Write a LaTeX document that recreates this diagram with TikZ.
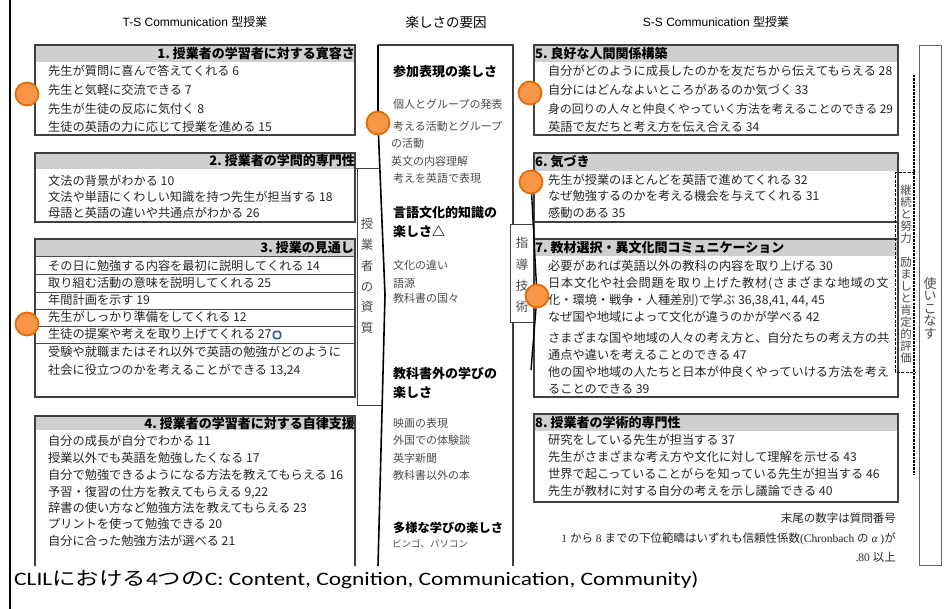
\documentclass[tikz,border=0pt]{standalone}
\usepackage{graphicx}
\usepackage{fontspec}
\setmainfont{Liberation Serif}
\newfontfamily\jp{Noto Sans CJK JP}
\newfontfamily\lsans{Liberation Sans}
\newfontfamily\carl{Carlito}
\newfontfamily\lserif{Liberation Serif}
\definecolor{orF}{HTML}{F79646}
\definecolor{orD}{HTML}{E46C0A}
\definecolor{hdrgray}{HTML}{CFCFCF}
\definecolor{iconblue}{HTML}{2F5D8C}
\tikzset{
 frame/.style={draw=black!75, line width=1.1pt},
 rowline/.style={draw=black!70, line width=0.8pt},
 body/.style={inner sep=0pt, anchor=base west, text=black!85, font=\jp\fontsize{12.2}{14}\selectfont},
 hdrL/.style={inner sep=0pt, anchor=base east, font=\jp\bfseries\fontsize{13}{15}\selectfont},
 hdrR/.style={inner sep=0pt, anchor=base west, font=\jp\bfseries\fontsize{13}{15}\selectfont},
 midhead/.style={inner sep=0pt, anchor=base west, font=\jp\bfseries\fontsize{13}{15}\selectfont},
 miditem/.style={inner sep=0pt, anchor=base west, text=black!70, font=\jp\fontsize{11}{13}\selectfont},
 vert/.style={inner sep=0pt, align=center, text=black!70},
 dot/.style={circle, minimum size=23pt, inner sep=0pt, fill=orF, draw=orD, line width=1.8pt},
 conn/.style={draw=black, line width=1.6pt},
 titletxt/.style={inner sep=0pt, anchor=base, font=\fontsize{12}{14}\selectfont},
 foot/.style={inner sep=0pt, anchor=base east, text=black!85, font=\jp\fontsize{11.5}{13}\selectfont},
 dashbox/.style={draw=black, line width=1pt, dash pattern=on 3pt off 1.5pt},
}
\begin{document}
\begin{tikzpicture}[x=1pt,y=-1pt]
\useasboundingbox (0,0) rectangle (952,609);
\fill[white] (0,0) rectangle (952,609);
\draw[line width=2pt] (10,0) -- (10,609);

% titles
\node[titletxt] (tL) at (195,27) {{\lsans T-S Communication }{\jp 型授業}};
\node[titletxt, font=\jp\fontsize{13.5}{15}\selectfont] (tM) at (446,28) {楽しさの要因};
\node[titletxt] (tR) at (716,27) {{\lsans S-S Communication }{\jp 型授業}};

% ---------- left column ----------
% box 1
\fill[hdrgray] (35,45) rectangle (355,62);
\draw[frame] (35,45) rectangle (355,135);
\node[hdrL] (h1) at (355,58.5) {1.~授業者の学習者に対する寛容さ};
\node[body] (a1) at (48,75.7) {先生が質問に喜んで答えてくれる 6};
\node[body] (a2) at (48,94.7) {先生と気軽に交流できる 7};
\node[body] (a3) at (48,113.7) {先生が生徒の反応に気付く 8};
\node[body] (a4) at (48,131.7) {生徒の英語の力に応じて授業を進める 15};

% box 2
\fill[hdrgray] (35,153) rectangle (355,169);
\draw[frame] (35,153) rectangle (355,222);
\node[hdrL] (h2) at (355,166) {2.~授業者の学問的専門性};
\node[body] (b1) at (48,185.7) {文法の背景がわかる 10};
\node[body] (b2) at (48,201.7) {文法や単語にくわしい知識を持つ先生が担当する 18};
\node[body] (b3) at (48,217.7) {母語と英語の違いや共通点がわかる 26};

% box 3
\fill[hdrgray] (35,239) rectangle (355,256);
\draw[frame] (35,239) rectangle (355,397);
\foreach \yy in {256,274,292,309,326,343} \draw[rowline] (35,\yy) -- (355,\yy);
\node[hdrL] (h3) at (354,252.5) {3.~授業の見通し};
\node[body] (d1) at (48,270.2) {その日に勉強する内容を最初に説明してくれる 14};
\node[body] (d2) at (48,287.7) {取り組む活動の意味を説明してくれる 25};
\node[body] (d3) at (48,304.7) {年間計画を示す 19};
\node[body] (d4) at (48,321.7) {先生がしっかり準備をしてくれる 12};
\node[body] (d5) at (48,338.7) {生徒の提案や考えを取り上げてくれる 27};
\node[draw=iconblue, line width=1.6pt, fill=white, rounded corners=1.5pt, minimum size=7pt, inner sep=0pt] (icon) at (277,335) {};
\node[body] (d6) at (48,356.7) {受験や就職またはそれ以外で英語の勉強がどのように};
\node[body] (d7) at (48,374.7) {社会に役立つのかを考えることができる 13,24};

% box 4
\fill[hdrgray] (35,416) rectangle (355,430);
\draw[frame] (35,566) -- (35,416) -- (355,416) -- (355,566);
\node[hdrL] (h4) at (355,428) {4.~授業者の学習者に対する自律支援};
\node[body] (e1) at (48,445.7) {自分の成長が自分でわかる 11};
\node[body] (e2) at (48,462.7) {授業以外でも英語を勉強したくなる 17};
\node[body] (e3) at (48,479.7) {自分で勉強できるようになる方法を教えてもらえる 16};
\node[body] (e4) at (48,496.7) {予習・復習の仕方を教えてもらえる 9,22};
\node[body] (e5) at (48,512.7) {辞書の使い方など勉強方法を教えてもらえる 23};
\node[body] (e6) at (48,528.7) {プリントを使って勉強できる 20};
\node[body] (e7) at (48,545.7) {自分に合った勉強方法が選べる 21};

% 授業者の資質 bracket
\draw[frame, line width=1pt] (380,169) -- (355,169);
\draw[frame, line width=1pt] (357,169) -- (357,405) -- (382,405);
\node[vert, font=\jp\fontsize{12.5}{20.8}\selectfont] (shishitsu) at (367,276) {授\\業\\者\\の\\資\\質};

% ---------- middle column ----------
\draw[frame] (378,45) -- (513,45) -- (513,225);
\draw[frame] (513,322) -- (513,566);
\node[midhead] (m1) at (393,77) {参加表現の楽しさ};
\node[miditem] (m1a) at (393,108.2) {個人とグループの発表};
\node[miditem] (m1b) at (393,130.2) {考える活動とグループ};
\node[miditem] (m1c) at (391,147.2) {の活動};
\node[miditem] (m1d) at (391,165.2) {英文の内容理解};
\node[miditem] (m1e) at (393,182.2) {考えを英語で表現};
\node[midhead] (m2) at (393,218) {言語文化的知識の};
\node[midhead] (m2b) at (393,237) {楽しさ△};
\node[miditem] (m2c) at (393,269.2) {文化の違い};
\node[miditem] (m2d) at (393,287.2) {語源};
\node[miditem] (m2e) at (393,302.2) {教科書の国々};
\node[midhead] (m3) at (393,378) {教科書外の学びの};
\node[midhead] (m3b) at (393,397) {楽しさ};
\node[miditem] (m3c) at (393,427.2) {映画の表現};
\node[miditem] (m3d) at (393,444.2) {外国での体験談};
\node[miditem] (m3e) at (393,462.2) {英字新聞};
\node[miditem] (m3f) at (393,479.2) {教科書以外の本};
\node[midhead, font=\jp\bfseries\fontsize{12.2}{14}\selectfont] (m4) at (393,532.5) {多様な学びの楽しさ};
\node[miditem, font=\jp\fontsize{9.5}{11}\selectfont] (m4a) at (392,547.6) {ビンゴ、パソコン};

% ---------- right column ----------
% box 5
\fill[hdrgray] (534,45) rectangle (898,62);
\draw[frame] (534,45) rectangle (898,135);
\node[hdrR] (h5) at (535,58.5) {5.~良好な人間関係構築};
\node[body] (f1) at (548,75.7) {自分がどのように成長したのかを友だちから伝えてもらえる 28};
\node[body] (f2) at (548,94.7) {自分にはどんなよいところがあるのか気づく 33};
\node[body, font=\jp\fontsize{11.8}{14}\selectfont] (f3) at (548,113.7) {身の回りの人々と仲良くやっていく方法を考えることのできる 29};
\node[body] (f4) at (548,131.7) {英語で友だちと考え方を伝え合える 34};

% box 6 + 7
\fill[hdrgray] (534,153) rectangle (898,171);
\fill[hdrgray] (534,239) rectangle (898,256);
\draw[frame] (534,153) rectangle (898,397);
\draw[frame] (534,222) -- (898,222);
\draw[frame] (534,239) -- (898,239);
\node[hdrR] (h6) at (535,167) {6.~気づき};
\node[body] (g1) at (548,184.7) {先生が授業のほとんどを英語で進めてくれる 32};
\node[body] (g2) at (548,200.7) {なぜ勉強するのかを考える機会を与えてくれる 31};
\node[body] (g3) at (548,217.7) {感動のある 35};
\node[hdrR] (h7) at (535,252.5) {7.~教材選択・異文化間コミュニケーション};
\node[body] (k1) at (548,270.7) {必要があれば英語以外の教科の内容を取り上げる 30};
\node[body, font=\jp\fontsize{12.2}{14}\addfontfeature{LetterSpace=6}\selectfont] (k2) at (548,287.7) {日本文化や社会問題を取り上げた教材(さまざまな地域の文};
\node[body] (k3) at (548,304.7) {化・環境・戦争・人種差別)で学ぶ 36,38,41, 44, 45};
\node[body] (k4) at (548,321.7) {なぜ国や地域によって文化が違うのかが学べる 42};
\node[body] (k5) at (548,342.7) {さまざまな国や地域の人々の考え方と、自分たちの考え方の共};
\node[body] (k6) at (548,359.7) {通点や違いを考えることのできる 47};
\node[body] (k7) at (548,376.7) {他の国や地域の人たちと日本が仲良くやっていける方法を考え};
\node[body] (k8) at (548,393.7) {ることのできる 39};

% box 8
\fill[hdrgray] (534,414) rectangle (898,431);
\draw[frame] (534,414) rectangle (898,502);
\node[hdrR] (h8) at (535,427.5) {8.~授業者の学術的専門性};
\node[body] (n1) at (548,444.7) {研究をしている先生が担当する 37};
\node[body] (n2) at (548,461.7) {先生がさまざまな考え方や文化に対して理解を示せる 43};
\node[body] (n3) at (548,478.7) {世界で起こっていることがらを知っている先生が担当する 46};
\node[body] (n4) at (548,495.7) {先生が教材に対する自分の考えを示し議論できる 40};

% footnote
\node[foot] (fn1) at (896,522.4) {末尾の数字は質問番号};
\node[foot] (fn2) at (896,542.4) {{\lserif 1 }から{\lserif\ 8 }までの下位範疇はいずれも信頼性係数{\lserif (Chronbach }の{\lserif\itshape~α}{\lserif\ )}が};
\node[foot] (fn3) at (896,561.4) {{\lserif .80 }以上};

% right-most frames
\draw[dashbox] (915,173) -- (895,173) -- (895,372) -- (915,372);
\draw[line width=1.6pt, dash pattern=on 2.5pt off 1pt] (914,75) -- (914,475);
\draw[draw=black!60, line width=0.9pt] (919,45) rectangle (941,565);
\node[vert, font=\jp\fontsize{11.5}{12}\selectfont] (keizoku) at (906,274) {継\\続\\と\\努\\力\\\mbox{}\\励\\ま\\し\\と\\肯\\定\\的\\評\\価};
\node[vert, font=\jp\fontsize{13}{12.5}\selectfont] (tsukai) at (930,308) {使\\い\\こ\\な\\す};

% 指導技術 callout
\draw[frame, line width=1pt] (533,225) -- (510,225) -- (510,322) -- (535,322);
\node[vert, font=\jp\fontsize{12.5}{21.3}\selectfont] (shido) at (522,275) {指\\導\\技\\術};

% orange markers and connectors
\node[dot] (c1) at (27,94) {};
\node[dot] (c2) at (27,324) {};
\node[dot] (c3) at (378,123) {};
\node[dot] (c4) at (530,93) {};
\node[dot] (c5) at (531,182) {};
\node[dot] (c6) at (537,296) {};
\coordinate (mtop) at (378,45);
\coordinate (mA) at (385,295);
\coordinate (mB) at (378,566);
\coordinate (rA) at (531,370);
\draw[conn] (mtop) -- (c3);
\draw[conn] (c3) -- (mA) -- (mB);
\draw[conn, line width=1.4pt] (c5) -- (c6) -- (rA);

% bottom caption
\node[inner sep=0pt, anchor=base west, font=\fontsize{19}{21}\selectfont] (clil) at (14,585) {\scalebox{1.234}[1]{{\carl CLIL}{\jp における}{\carl 4}{\jp つの}{\carl C: Content, Cognition, Communication, Community)}}};
\end{tikzpicture}
\end{document}
